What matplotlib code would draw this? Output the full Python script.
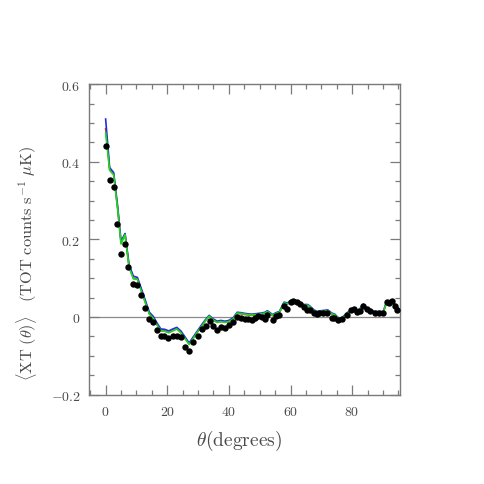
import matplotlib
matplotlib.use("Agg")
import matplotlib.pyplot as plt
from matplotlib.ticker import MultipleLocator

# ---- data ----
theta_data = [0.0, 1.3, 2.6, 3.7, 5.1, 6.2, 7.4, 9.0, 10.3, 11.5, 12.9, 14.2, 15.5,
              16.6, 17.9, 19.0, 20.4, 21.8, 23.1, 24.4, 25.8, 27.1, 28.4, 29.9,
              31.3, 32.5, 33.8, 35.0, 36.2, 37.4, 38.7, 40.0, 41.4, 42.7, 43.8,
              45.2, 46.3, 47.4, 48.5, 49.5, 50.6, 51.7, 52.5, 54.2, 55.3, 56.4,
              57.9, 59.0, 60.1, 60.9, 62.0, 63.2, 64.4, 65.5, 66.3, 67.6, 68.5,
              69.4, 70.5, 71.8, 73.4, 74.2, 75.5, 76.6, 78.2, 79.6, 80.5, 81.5,
              82.6, 83.6, 84.7, 85.8, 87.4, 88.6, 90.1, 91.2, 92.1, 93.0, 93.9, 94.7]
xt_data = [0.440, 0.352, 0.334, 0.239, 0.163, 0.187, 0.128, 0.086, 0.083, 0.057,
           0.023, -0.006, -0.014, -0.034, -0.048, -0.048, -0.055, -0.048, -0.048,
           -0.053, -0.077, -0.087, -0.065, -0.048, -0.030, -0.024, -0.011, -0.024,
           -0.034, -0.027, -0.028, -0.021, -0.012, 0.000, -0.003, -0.005, -0.005,
           -0.007, -0.002, 0.002, 0.000, -0.005, 0.005, -0.007, 0.002, 0.005,
           0.027, 0.020, 0.038, 0.042, 0.038, 0.033, 0.025, 0.019, 0.019, 0.010,
           0.008, 0.009, 0.010, 0.009, -0.003, -0.004, -0.008, -0.006, 0.006,
           0.019, 0.021, 0.012, 0.016, 0.029, 0.020, 0.014, 0.011, 0.010, 0.011,
           0.039, 0.036, 0.042, 0.029, 0.018]

theta_model = [0.0, 1.3, 2.6, 3.9, 5.0, 6.3, 7.6, 9.0, 10.3, 11.5, 13.0, 14.2, 15.5,
               16.7, 17.9, 19.2, 20.5, 21.8, 23.1, 24.4, 25.8, 27.1, 28.4, 29.7,
               31.1, 32.4, 33.6, 34.9, 36.2, 37.4, 38.7, 40.0, 41.4, 42.7, 43.9,
               45.2, 46.3, 47.4, 48.5, 49.5, 50.6, 51.7, 52.5, 54.2, 55.3, 56.4,
               57.9, 59.0, 60.1, 60.9, 62.0, 63.2, 64.4, 65.5, 66.3, 67.6, 68.7,
               69.9, 71.0, 72.1, 73.4, 74.4, 75.5, 76.6, 78.2, 79.6, 80.5, 81.5,
               82.6, 83.6, 84.7, 85.8, 87.4, 88.6, 90.1, 91.2, 92.1, 93.0, 93.9, 95.5]
model_red = [0.485, 0.380, 0.368, 0.280, 0.190, 0.213, 0.130, 0.100, 0.098, 0.070,
             0.035, 0.008, -0.003, -0.020, -0.035, -0.036, -0.040, -0.035, -0.030,
             -0.040, -0.055, -0.070, -0.055, -0.040, -0.025, -0.010, 0.002, -0.008,
             -0.014, -0.012, -0.014, -0.012, -0.005, 0.009, 0.008, 0.006, 0.005,
             0.004, 0.005, 0.006, 0.007, 0.009, 0.013, 0.003, 0.008, 0.011, 0.035,
             0.033, 0.039, 0.041, 0.039, 0.032, 0.029, 0.029, 0.025, 0.015, 0.011,
             0.013, 0.014, 0.015, 0.007, 0.004, -0.005, -0.006, 0.007, 0.015, 0.019,
             0.013, 0.019, 0.030, 0.021, 0.015, 0.011, 0.011, 0.011, 0.037, 0.039,
             0.041, 0.029, 0.015]
model_blue = [0.510, 0.385, 0.372, 0.285, 0.195, 0.215, 0.135, 0.105, 0.102, 0.075,
              0.040, 0.012, 0.001, -0.016, -0.031, -0.032, -0.036, -0.031, -0.027,
              -0.036, -0.052, -0.067, -0.052, -0.037, -0.021, -0.007, 0.004, -0.005,
              -0.011, -0.009, -0.011, -0.009, -0.002, 0.012, 0.011, 0.009, 0.008,
              0.007, 0.008, 0.009, 0.010, 0.012, 0.016, 0.006, 0.011, 0.014, 0.038,
              0.036, 0.042, 0.044, 0.042, 0.035, 0.032, 0.032, 0.028, 0.018, 0.014,
              0.016, 0.017, 0.018, 0.010, 0.007, -0.002, -0.003, 0.010, 0.018, 0.022,
              0.016, 0.022, 0.033, 0.024, 0.018, 0.014, 0.014, 0.014, 0.040, 0.042,
              0.044, 0.032, 0.018]
model_green = [0.475, 0.378, 0.366, 0.278, 0.188, 0.212, 0.128, 0.098, 0.097, 0.068,
               0.034, 0.007, -0.004, -0.021, -0.036, -0.037, -0.041, -0.036, -0.031,
               -0.041, -0.056, -0.071, -0.056, -0.040, -0.025, -0.010, 0.002, -0.008,
               -0.014, -0.012, -0.014, -0.012, -0.005, 0.010, 0.009, 0.007, 0.006,
               0.005, 0.006, 0.007, 0.008, 0.010, 0.014, 0.004, 0.009, 0.012, 0.036,
               0.034, 0.040, 0.043, 0.040, 0.033, 0.030, 0.030, 0.026, 0.016, 0.012,
               0.014, 0.015, 0.016, 0.008, 0.005, -0.004, -0.005, 0.008, 0.016, 0.020,
               0.014, 0.020, 0.031, 0.022, 0.016, 0.012, 0.012, 0.012, 0.038, 0.040,
               0.042, 0.030, 0.016]

x_ticks = [0, 20, 40, 60, 80]
x_tick_labels = ["0", "20", "40", "60", "80"]
y_ticks = [-0.2, 0, 0.2, 0.4, 0.6]
y_tick_labels = ["\u22120.2", "0", "0.2", "0.4", "0.6"]

plt.rcParams['font.family'] = ['DejaVu Serif']
plt.rcParams['mathtext.fontset'] = 'cm'

fig = plt.figure(figsize=(4.85, 4.85), dpi=100)
ax = fig.add_axes([0.1835, 0.1845, 0.641, 0.640])

frame_col = '#7a7a7a'
text_col = '#4a4a4a'

ax.axhline(0, color='#8a8a8a', lw=0.9, zorder=1)
ax.plot(theta_model, model_red, color='#e0401a', lw=1.2, zorder=2)
ax.plot(theta_model, model_blue, color='#2a2ae0', lw=1.2, zorder=3)
ax.plot(theta_model, model_green, color='#1ed81e', lw=1.2, zorder=4)
ax.plot(theta_data, xt_data, 'o', color='black', ms=4.6, mec='none', zorder=5)

ax.set_xlim(-5.4, 95.5)
ax.set_ylim(-0.2, 0.6)
ax.set_xticks(x_ticks)
ax.set_xticklabels(['$%s$' % t for t in x_tick_labels])
ax.set_yticks(y_ticks)
ax.set_yticklabels(['$%s$' % t.replace("\u2212", "-") for t in y_tick_labels])
ax.xaxis.set_minor_locator(MultipleLocator(5))
ax.yaxis.set_minor_locator(MultipleLocator(0.05))
ax.tick_params(which='both', direction='in', top=True, right=True,
               color=frame_col, width=0.9, labelsize=10, labelcolor=text_col)
ax.tick_params(axis='x', pad=7)
ax.tick_params(axis='y', pad=6)
ax.tick_params(which='major', length=7.5)
ax.tick_params(which='minor', length=3.5)
for s in ax.spines.values():
    s.set_color(frame_col)
    s.set_linewidth(1.0)

ax.set_xlabel(r'$\theta(\mathrm{degrees})$', fontsize=14, color=text_col)
ax.xaxis.set_label_coords(0.482, -0.108)
ax.set_ylabel(r'$\langle\mathrm{XT}\ (\theta)\rangle\ \ \ (\mathrm{TOT\ counts\ s}^{-1}\ \mu\mathrm{K})$',
              fontsize=11.8, color=text_col)
ax.yaxis.set_label_coords(-0.16, 0.425)

fig.savefig('out.png', dpi=100)
